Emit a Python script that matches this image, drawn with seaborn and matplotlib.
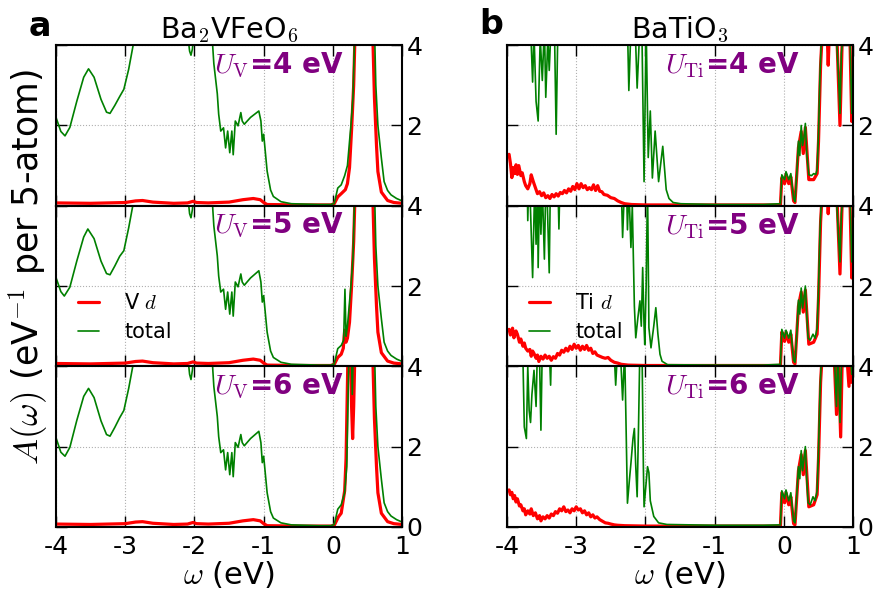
import matplotlib
matplotlib.use("Agg")
import matplotlib.pyplot as plt
import seaborn as sns
import pandas as pd

# ---------------- data (omega in eV, A(omega)) ----------------
x_ticks = [-4, -3, -2, -1, 0, 1]
x_tick_labels = ["-4", "-3", "-2", "-1", "0", "1"]
y_ticks = [0, 2, 4]
titles = ["Ba$_2$VFeO$_6$", "BaTiO$_3$"]
panel_letters = ["a", "b"]
u_values = [4, 5, 6]
species = ["V", "Ti"]

# Ba2VFeO6 -- total
V4_total = [(-4.00, 2.20), (-3.93, 1.85), (-3.87, 1.74), (-3.80, 1.95), (-3.70, 2.60), (-3.60, 3.20),
            (-3.53, 3.41), (-3.45, 3.20), (-3.35, 2.65), (-3.27, 2.33), (-3.22, 2.30), (-3.15, 2.50),
            (-3.08, 2.72), (-3.02, 2.90), (-2.95, 3.40), (-2.88, 4.05), (-2.80, 4.80), (-2.50, 5.50),
            (-2.20, 5.00), (-2.10, 4.30), (-2.07, 3.85), (-2.05, 3.75), (-2.03, 3.90), (-2.00, 4.40),
            (-1.90, 5.00), (-1.76, 4.60), (-1.72, 3.54), (-1.67, 2.79), (-1.65, 2.28), (-1.62, 1.86),
            (-1.58, 1.94), (-1.55, 1.44), (-1.52, 1.86), (-1.49, 1.32), (-1.46, 1.86), (-1.44, 1.27),
            (-1.41, 2.11), (-1.37, 1.99), (-1.33, 2.32), (-1.31, 2.11), (-1.28, 2.03), (-1.19, 2.20),
            (-1.07, 2.36), (-1.04, 2.11), (-1.02, 1.61), (-1.00, 1.78), (-0.95, 0.86), (-0.90, 0.39),
            (-0.86, 0.23), (-0.75, 0.10), (-0.60, 0.05), (-0.40, 0.04), (-0.20, 0.03), (-0.03, 0.03),
            (0.02, 0.06), (0.07, 0.44), (0.12, 0.52), (0.17, 0.75), (0.21, 1.00), (0.26, 2.00),
            (0.29, 2.70), (0.31, 4.00), (0.33, 5.50), (0.45, 7.00), (0.55, 6.50), (0.60, 4.50),
            (0.62, 3.00), (0.65, 2.00), (0.70, 1.19), (0.74, 0.60), (0.79, 0.38), (0.84, 0.27),
            (0.92, 0.18), (1.00, 0.12)]
V5_total = [(-4.00, 2.21), (-3.93, 1.86), (-3.88, 1.75), (-3.80, 1.97), (-3.70, 2.62), (-3.60, 3.22),
            (-3.54, 3.42), (-3.45, 3.18), (-3.35, 2.62), (-3.27, 2.31), (-3.22, 2.28), (-3.15, 2.50),
            (-3.08, 2.74), (-3.02, 2.88), (-2.95, 3.45), (-2.88, 4.10), (-2.80, 4.80), (-2.50, 5.50),
            (-2.20, 5.00), (-2.10, 4.30), (-2.07, 3.80), (-2.05, 3.70), (-2.03, 3.90), (-2.00, 4.40),
            (-1.90, 5.00), (-1.76, 4.60), (-1.72, 3.50), (-1.67, 2.75), (-1.65, 2.25), (-1.62, 1.85),
            (-1.58, 1.92), (-1.55, 1.42), (-1.52, 1.85), (-1.49, 1.30), (-1.46, 1.85), (-1.44, 1.25),
            (-1.41, 2.10), (-1.37, 1.98), (-1.33, 2.30), (-1.31, 2.10), (-1.28, 2.02), (-1.19, 2.20),
            (-1.07, 2.38), (-1.04, 2.10), (-1.02, 1.60), (-1.00, 1.76), (-0.95, 0.85), (-0.90, 0.38),
            (-0.86, 0.22), (-0.75, 0.10), (-0.60, 0.05), (-0.40, 0.04), (-0.20, 0.03), (-0.03, 0.03),
            (0.02, 0.06), (0.07, 0.44), (0.12, 0.52), (0.155, 0.65), (0.174, 1.92), (0.19, 0.75),
            (0.21, 1.00), (0.26, 2.00), (0.29, 2.70), (0.31, 4.00), (0.33, 5.50), (0.45, 7.00),
            (0.55, 6.50), (0.60, 4.50), (0.62, 3.00), (0.65, 2.00), (0.70, 1.19), (0.74, 0.60),
            (0.79, 0.38), (0.84, 0.27), (0.92, 0.18), (1.00, 0.12)]
V6_total = [(-4.00, 2.22), (-3.93, 1.86), (-3.87, 1.76), (-3.80, 1.98), (-3.70, 2.65), (-3.60, 3.25),
            (-3.53, 3.45), (-3.45, 3.22), (-3.35, 2.64), (-3.27, 2.30), (-3.22, 2.26), (-3.15, 2.48),
            (-3.08, 2.72), (-3.02, 2.90), (-2.95, 3.45), (-2.88, 4.10), (-2.80, 4.80), (-2.50, 5.50),
            (-2.20, 5.00), (-2.10, 4.30), (-2.07, 3.80), (-2.05, 3.67), (-2.03, 3.90), (-2.00, 4.40),
            (-1.90, 5.00), (-1.76, 4.60), (-1.72, 3.50), (-1.67, 2.75), (-1.65, 2.25), (-1.62, 1.85),
            (-1.58, 1.92), (-1.55, 1.42), (-1.52, 1.85), (-1.49, 1.30), (-1.46, 1.85), (-1.44, 1.25),
            (-1.41, 2.10), (-1.37, 1.98), (-1.33, 2.30), (-1.31, 2.10), (-1.28, 2.02), (-1.19, 2.20),
            (-1.07, 2.38), (-1.04, 2.10), (-1.02, 1.60), (-1.00, 1.76), (-0.95, 0.85), (-0.90, 0.38),
            (-0.86, 0.22), (-0.75, 0.10), (-0.60, 0.05), (-0.40, 0.04), (-0.20, 0.03), (-0.03, 0.03),
            (0.02, 0.06), (0.07, 0.44), (0.12, 0.55), (0.17, 0.85), (0.20, 1.50), (0.23, 4.20),
            (0.26, 5.00), (0.28, 3.30), (0.30, 5.00), (0.45, 7.00), (0.55, 6.50), (0.60, 4.50),
            (0.62, 3.00), (0.65, 2.00), (0.70, 1.19), (0.74, 0.60), (0.79, 0.38), (0.84, 0.27),
            (0.92, 0.18), (1.00, 0.12)]

# Ba2VFeO6 -- V d
V4_d = [(-4.00, 0.07), (-3.50, 0.06), (-3.00, 0.08), (-2.85, 0.12), (-2.75, 0.13), (-2.60, 0.09),
        (-2.30, 0.06), (-2.10, 0.07), (-2.02, 0.11), (-1.97, 0.08), (-1.80, 0.07), (-1.50, 0.09),
        (-1.30, 0.15), (-1.15, 0.18), (-1.05, 0.15), (-1.00, 0.08), (-0.95, 0.03), (-0.50, 0.02),
        (-0.03, 0.02), (0.02, 0.05), (0.07, 0.22), (0.12, 0.30), (0.18, 0.40), (0.21, 0.55),
        (0.24, 0.95), (0.27, 1.90), (0.30, 3.00), (0.32, 4.30), (0.40, 7.00), (0.50, 7.00),
        (0.56, 5.50), (0.58, 4.00), (0.60, 2.70), (0.63, 1.50), (0.65, 0.85), (0.70, 0.34),
        (0.79, 0.13), (0.88, 0.08), (1.00, 0.06)]
V5_d = [(-4.00, 0.07), (-3.50, 0.06), (-3.00, 0.08), (-2.85, 0.12), (-2.75, 0.13), (-2.60, 0.09),
        (-2.30, 0.06), (-2.10, 0.07), (-2.02, 0.11), (-1.97, 0.08), (-1.80, 0.07), (-1.50, 0.09),
        (-1.30, 0.15), (-1.15, 0.18), (-1.05, 0.15), (-1.00, 0.08), (-0.95, 0.03), (-0.50, 0.02),
        (-0.03, 0.02), (0.02, 0.05), (0.07, 0.22), (0.12, 0.30), (0.15, 0.45), (0.17, 0.90),
        (0.19, 0.60), (0.21, 0.70), (0.24, 1.10), (0.27, 2.00), (0.30, 3.10), (0.32, 4.30),
        (0.40, 7.00), (0.50, 7.00), (0.56, 5.50), (0.58, 4.00), (0.60, 2.70), (0.63, 1.50),
        (0.65, 0.85), (0.70, 0.34), (0.79, 0.13), (0.88, 0.08), (1.00, 0.06)]
V6_d = [(-4.00, 0.07), (-3.50, 0.06), (-3.00, 0.08), (-2.85, 0.12), (-2.75, 0.13), (-2.60, 0.09),
        (-2.30, 0.06), (-2.10, 0.07), (-2.02, 0.11), (-1.97, 0.08), (-1.80, 0.07), (-1.50, 0.09),
        (-1.30, 0.15), (-1.15, 0.18), (-1.05, 0.15), (-1.00, 0.08), (-0.95, 0.03), (-0.50, 0.02),
        (-0.03, 0.02), (0.02, 0.04), (0.08, 0.25), (0.12, 0.34), (0.17, 0.90), (0.19, 1.70),
        (0.22, 4.50), (0.25, 4.60), (0.27, 3.00), (0.285, 2.20), (0.30, 3.00), (0.32, 4.50),
        (0.40, 7.00), (0.50, 7.00), (0.56, 5.50), (0.58, 4.00), (0.60, 2.70), (0.63, 1.50),
        (0.65, 0.85), (0.70, 0.34), (0.79, 0.13), (0.88, 0.08), (1.00, 0.06)]

# BaTiO3 -- total
Ti4_total = [(-4.00, 6.0), (-3.70, 6.0), (-3.66, 4.5), (-3.63, 3.08), (-3.61, 4.3), (-3.58, 2.6),
             (-3.55, 2.11), (-3.52, 4.2), (-3.49, 3.12), (-3.46, 4.5), (-3.44, 2.70), (-3.41, 4.2),
             (-3.39, 3.37), (-3.36, 4.6), (-3.32, 5.0), (-3.29, 1.78), (-3.26, 5.0), (-3.00, 6.0),
             (-2.60, 6.0), (-2.30, 5.0), (-2.26, 4.5), (-2.24, 2.87), (-2.21, 4.4), (-2.15, 4.5),
             (-2.12, 2.93), (-2.08, 4.5), (-2.05, 4.2), (-2.02, 0.60), (-1.99, 4.5), (-1.96, 1.2),
             (-1.93, 2.36), (-1.90, 0.69), (-1.86, 1.86), (-1.81, 0.60), (-1.75, 1.48), (-1.70, 0.40),
             (-1.66, 0.18), (-1.60, 0.08), (-1.49, 0.05), (-1.00, 0.03), (-0.30, 0.03), (-0.05, 0.05),
             (-0.03, 0.77), (0.01, 0.65), (0.03, 0.85), (0.07, 0.65), (0.10, 0.80), (0.14, 0.18),
             (0.16, 0.10), (0.19, 0.90), (0.21, 1.61), (0.23, 1.25), (0.25, 2.00), (0.27, 1.50),
             (0.29, 1.70), (0.31, 2.05), (0.33, 1.30), (0.36, 0.77), (0.40, 0.75), (0.43, 0.80),
             (0.46, 0.78), (0.48, 0.90), (0.50, 1.80), (0.52, 3.20), (0.55, 4.50), (0.65, 5.00),
             (0.75, 4.50), (0.79, 3.20), (0.81, 2.30), (0.83, 3.80), (0.87, 4.50), (0.92, 4.20),
             (0.95, 4.60), (0.98, 2.30), (1.00, 3.50)]
Ti5_total = [(-4.00, 6.0), (-3.72, 6.0), (-3.70, 3.63), (-3.68, 5.0), (-3.63, 2.21), (-3.60, 4.5),
             (-3.58, 3.04), (-3.56, 4.5), (-3.55, 2.46), (-3.53, 4.5), (-3.51, 3.29), (-3.49, 4.5),
             (-3.46, 2.67), (-3.44, 4.5), (-3.42, 4.2), (-3.39, 2.33), (-3.37, 5.0), (-3.27, 5.0),
             (-3.25, 3.42), (-3.23, 5.0), (-2.80, 6.0), (-2.40, 5.5), (-2.35, 4.5), (-2.33, 3.21),
             (-2.30, 4.6), (-2.27, 4.2), (-2.26, 3.40), (-2.24, 4.5), (-2.21, 2.96), (-2.19, 4.0),
             (-2.16, 1.5), (-2.14, 0.71), (-2.11, 1.2), (-2.08, 1.63), (-2.06, 1.0), (-2.04, 2.46),
             (-2.02, 1.0), (-2.01, 0.54), (-1.99, 2.0), (-1.97, 4.5), (-1.95, 0.96), (-1.92, 0.46),
             (-1.88, 1.0), (-1.85, 1.46), (-1.82, 0.8), (-1.79, 0.30), (-1.76, 0.125), (-1.68, 0.04),
             (-1.00, 0.03), (-0.30, 0.03), (-0.05, 0.05), (-0.03, 0.92), (0.01, 0.70), (0.03, 0.90),
             (0.07, 0.70), (0.10, 0.90), (0.14, 0.15), (0.16, 0.10), (0.19, 0.90), (0.21, 1.65),
             (0.23, 1.30), (0.25, 1.95), (0.27, 1.45), (0.29, 1.70), (0.31, 2.00), (0.33, 1.30),
             (0.35, 0.70), (0.38, 0.65), (0.42, 0.80), (0.45, 0.70), (0.48, 0.95), (0.50, 1.90),
             (0.52, 3.30), (0.55, 4.50), (0.65, 5.00), (0.75, 4.50), (0.79, 3.20), (0.81, 2.60),
             (0.83, 3.80), (0.87, 4.50), (0.92, 4.20), (0.95, 4.60), (0.98, 2.60), (1.00, 3.50)]
Ti6_total = [(-4.00, 6.0), (-3.80, 6.0), (-3.77, 4.2), (-3.75, 2.49), (-3.72, 2.20), (-3.70, 4.0),
             (-3.68, 2.90), (-3.66, 2.60), (-3.64, 3.30), (-3.61, 3.9), (-3.58, 3.00), (-3.56, 4.5),
             (-3.53, 4.2), (-3.51, 2.41), (-3.49, 4.5), (-3.40, 5.0), (-3.37, 3.53), (-3.35, 5.0),
             (-2.90, 6.0), (-2.47, 5.0), (-2.43, 3.53), (-2.40, 4.5), (-2.36, 4.3), (-2.33, 3.16),
             (-2.30, 4.4), (-2.28, 2.5), (-2.26, 0.59), (-2.23, 1.2), (-2.21, 1.58), (-2.18, 2.2),
             (-2.16, 2.45), (-2.14, 1.5), (-2.12, 0.75), (-2.10, 2.5), (-2.08, 4.5), (-2.05, 4.5),
             (-2.03, 1.5), (-2.02, 0.50), (-1.99, 1.1), (-1.97, 1.50), (-1.95, 1.35), (-1.93, 0.65),
             (-1.88, 0.26), (-1.81, 0.10), (-1.69, 0.06), (-1.00, 0.04), (-0.30, 0.04), (-0.05, 0.05),
             (-0.03, 0.90), (0.01, 0.70), (0.03, 0.92), (0.07, 0.65), (0.10, 0.85), (0.14, 0.15),
             (0.16, 0.10), (0.19, 0.90), (0.21, 1.50), (0.23, 1.20), (0.25, 1.90), (0.27, 1.40),
             (0.29, 1.70), (0.31, 2.00), (0.33, 1.20), (0.35, 0.60), (0.38, 0.55), (0.42, 0.75),
             (0.45, 0.65), (0.48, 0.90), (0.50, 1.90), (0.52, 3.30), (0.55, 4.50), (0.65, 5.00),
             (0.72, 4.60), (0.76, 3.00), (0.78, 4.50), (0.81, 2.60), (0.83, 4.00), (0.87, 4.50),
             (0.92, 4.20), (0.95, 4.60), (0.98, 3.80), (1.00, 4.30)]

# BaTiO3 -- Ti d
Ti4_d = [(-3.97, 1.28), (-3.95, 1.05), (-3.93, 0.70), (-3.91, 0.95), (-3.89, 0.80), (-3.87, 1.02),
         (-3.85, 0.78), (-3.83, 1.00), (-3.80, 0.75), (-3.78, 0.82), (-3.75, 0.60), (-3.73, 0.50),
         (-3.70, 0.42), (-3.67, 0.55), (-3.65, 0.77), (-3.62, 0.60), (-3.59, 0.45), (-3.56, 0.30),
         (-3.53, 0.35), (-3.50, 0.25), (-3.47, 0.32), (-3.44, 0.20), (-3.41, 0.25), (-3.38, 0.18),
         (-3.35, 0.28), (-3.32, 0.22), (-3.29, 0.30), (-3.26, 0.24), (-3.23, 0.33), (-3.20, 0.30),
         (-3.17, 0.38), (-3.14, 0.32), (-3.11, 0.42), (-3.08, 0.36), (-3.05, 0.48), (-3.02, 0.40),
         (-2.99, 0.55), (-2.96, 0.42), (-2.93, 0.55), (-2.90, 0.45), (-2.87, 0.50), (-2.84, 0.40),
         (-2.81, 0.45), (-2.78, 0.40), (-2.75, 0.52), (-2.72, 0.38), (-2.69, 0.50), (-2.66, 0.36),
         (-2.63, 0.35), (-2.60, 0.28), (-2.55, 0.26), (-2.50, 0.20), (-2.45, 0.18), (-2.40, 0.12),
         (-2.35, 0.08), (-2.30, 0.05), (-2.20, 0.03), (-2.00, 0.02), (-0.05, 0.02), (-0.03, 0.70),
         (0.01, 0.55), (0.03, 0.78), (0.07, 0.55), (0.10, 0.72), (0.14, 0.12), (0.16, 0.08),
         (0.21, 1.45), (0.25, 1.85), (0.28, 1.30), (0.31, 1.95), (0.36, 0.65), (0.43, 0.65),
         (0.48, 0.80), (0.50, 1.60), (0.53, 3.50), (0.56, 4.50), (0.62, 4.60), (0.64, 3.50),
         (0.66, 4.50), (0.76, 4.50), (0.81, 2.00), (0.84, 4.00), (0.90, 4.50), (0.95, 4.50),
         (0.98, 2.10), (1.00, 3.00)]
Ti5_d = [(-3.97, 0.92), (-3.95, 0.78), (-3.92, 0.95), (-3.90, 0.71), (-3.87, 0.88), (-3.85, 0.80),
         (-3.82, 0.60), (-3.80, 0.68), (-3.77, 0.50), (-3.75, 0.58), (-3.73, 0.45), (-3.70, 0.38),
         (-3.67, 0.42), (-3.65, 0.25), (-3.63, 0.38), (-3.61, 0.32), (-3.58, 0.20), (-3.56, 0.28),
         (-3.54, 0.12), (-3.51, 0.25), (-3.48, 0.18), (-3.45, 0.28), (-3.42, 0.20), (-3.39, 0.25),
         (-3.36, 0.15), (-3.33, 0.24), (-3.30, 0.20), (-3.27, 0.32), (-3.24, 0.28), (-3.21, 0.40),
         (-3.18, 0.35), (-3.15, 0.45), (-3.12, 0.38), (-3.09, 0.50), (-3.06, 0.42), (-3.03, 0.55),
         (-3.00, 0.45), (-2.97, 0.52), (-2.94, 0.40), (-2.91, 0.50), (-2.88, 0.42), (-2.85, 0.52),
         (-2.82, 0.40), (-2.79, 0.45), (-2.76, 0.32), (-2.73, 0.36), (-2.70, 0.28), (-2.66, 0.25),
         (-2.62, 0.22), (-2.58, 0.20), (-2.54, 0.22), (-2.50, 0.15), (-2.45, 0.10), (-2.40, 0.08),
         (-2.35, 0.05), (-2.25, 0.03), (-2.00, 0.02), (-0.05, 0.02), (-0.03, 0.85), (0.01, 0.62),
         (0.03, 0.85), (0.07, 0.60), (0.10, 0.80), (0.14, 0.10), (0.16, 0.06), (0.21, 1.50),
         (0.25, 1.85), (0.28, 1.35), (0.31, 1.90), (0.36, 0.55), (0.43, 0.60), (0.48, 0.80),
         (0.50, 1.70), (0.53, 3.60), (0.56, 4.50), (0.62, 4.60), (0.64, 3.80), (0.66, 4.50),
         (0.76, 4.50), (0.81, 2.30), (0.84, 4.00), (0.90, 4.50), (0.95, 4.50), (0.98, 2.20),
         (1.00, 3.00)]
Ti6_d = [(-3.97, 0.92), (-3.95, 0.80), (-3.93, 0.86), (-3.91, 0.70), (-3.89, 0.78), (-3.87, 0.62),
         (-3.85, 0.70), (-3.82, 0.52), (-3.80, 0.55), (-3.77, 0.40), (-3.75, 0.45), (-3.73, 0.30),
         (-3.70, 0.40), (-3.67, 0.32), (-3.65, 0.45), (-3.62, 0.28), (-3.59, 0.35), (-3.56, 0.20),
         (-3.53, 0.28), (-3.51, 0.15), (-3.48, 0.25), (-3.45, 0.20), (-3.42, 0.28), (-3.39, 0.22),
         (-3.36, 0.32), (-3.33, 0.28), (-3.30, 0.38), (-3.27, 0.34), (-3.24, 0.45), (-3.21, 0.40),
         (-3.18, 0.50), (-3.15, 0.38), (-3.12, 0.42), (-3.09, 0.35), (-3.06, 0.45), (-3.03, 0.40),
         (-3.00, 0.50), (-2.97, 0.42), (-2.94, 0.45), (-2.91, 0.35), (-2.88, 0.40), (-2.85, 0.30),
         (-2.82, 0.35), (-2.79, 0.25), (-2.76, 0.30), (-2.73, 0.22), (-2.70, 0.25), (-2.66, 0.18),
         (-2.62, 0.14), (-2.58, 0.10), (-2.54, 0.09), (-2.50, 0.07), (-2.45, 0.05), (-2.40, 0.04),
         (-2.30, 0.03), (-2.00, 0.02), (-0.05, 0.02), (-0.03, 0.85), (0.01, 0.60), (0.03, 0.85),
         (0.07, 0.55), (0.10, 0.75), (0.14, 0.08), (0.16, 0.05), (0.21, 1.40), (0.25, 1.80),
         (0.28, 1.30), (0.31, 1.90), (0.36, 0.50), (0.43, 0.55), (0.48, 0.80), (0.50, 1.70),
         (0.53, 3.60), (0.56, 4.50), (0.62, 4.60), (0.66, 4.50), (0.72, 4.50), (0.76, 2.80),
         (0.78, 4.50), (0.82, 2.24), (0.84, 4.00), (0.90, 4.50), (0.94, 3.50), (0.96, 4.50),
         (0.98, 3.60), (1.00, 4.00)]

totals = [[V4_total, V5_total, V6_total], [Ti4_total, Ti5_total, Ti6_total]]
dparts = [[V4_d, V5_d, V6_d], [Ti4_d, Ti5_d, Ti6_d]]

# ---------------- style ----------------
sns.set_style("white")
plt.rcParams.update({
    "font.family": ["DejaVu Sans"],
    "mathtext.fontset": "cm",
    "axes.unicode_minus": False,
    "axes.edgecolor": "black",
    "axes.linewidth": 1.5,
    "text.color": "black",
    "axes.labelcolor": "black",
    "xtick.color": "black",
    "ytick.color": "black",
    "xtick.labelsize": 18,
    "ytick.labelsize": 18,
})

RED = "#ff0000"
GREEN = "#008000"
PURPLE = "#800080"

fig, axes = plt.subplots(3, 2, figsize=(8.75, 5.94), dpi=100)
fig.subplots_adjust(left=0.064, right=0.975, top=0.924, bottom=0.113,
                    hspace=0.0, wspace=0.303)

for c in range(2):
    for r in range(3):
        ax = axes[r, c]
        dx, dy = zip(*dparts[c][r])
        tx, ty = zip(*totals[c][r])
        ddf = pd.DataFrame({"w": dx, "A": dy})
        tdf = pd.DataFrame({"w": tx, "A": ty})
        sns.lineplot(data=ddf, x="w", y="A", ax=ax, color=RED, linewidth=2.3,
                     estimator=None, sort=False, legend=False,
                     label=f"{species[c]} $d$")
        sns.lineplot(data=tdf, x="w", y="A", ax=ax, color=GREEN, linewidth=1.2,
                     estimator=None, sort=False, legend=False, label="total")
        ax.set_xlim(-4, 1)
        ax.set_ylim(0, 4)
        ax.set_xticks(x_ticks)
        ax.set_yticks(y_ticks)
        ax.grid(True, linestyle=":", color="#b0b0b0", linewidth=0.8)
        ax.tick_params(axis="both", which="major", direction="in", length=8, width=1.0,
                       top=True, bottom=True, left=True, right=True,
                       labelleft=False, labelright=True, labelbottom=(r == 2))
        ax.tick_params(axis="x", pad=6)
        ax.tick_params(axis="y", pad=3)
        if r == 2:
            ax.set_xticklabels(x_tick_labels)
            ax.set_yticklabels([str(v) for v in y_ticks])
            ax.set_xlabel(r"$\omega$ (eV)", fontsize=22, labelpad=0)
        else:
            ax.set_yticklabels(["", "2", "4"])
            ax.set_xlabel("")
        ax.set_ylabel("")
        ax.text(-1.72, 3.5, r"$U_{\rm " + species[c] + r"}$=" + f"{u_values[r]} eV",
                color=PURPLE, fontsize=20, fontweight="bold", va="center", ha="left")
        if r == 1:
            ax.legend(loc="lower left", bbox_to_anchor=(0.065, 0.15), frameon=False,
                      fontsize=15, handlelength=1.0, handletextpad=1.2, labelspacing=0.45,
                      borderaxespad=0.0, borderpad=0.0)
        if r == 0:
            ax.set_title(titles[c], fontsize=20.5, pad=4)

fig.text(0.045, 0.955, panel_letters[0], fontsize=24, fontweight="bold", ha="center", va="center")
fig.text(0.561, 0.958, panel_letters[1], fontsize=24, fontweight="bold", ha="center", va="center")
fig.text(0.032, 0.55, r"$A(\omega)$ (eV$^{-1}$ per 5-atom)", rotation=90, fontsize=25,
         ha="center", va="center")

fig.savefig("out.png", dpi=100)
